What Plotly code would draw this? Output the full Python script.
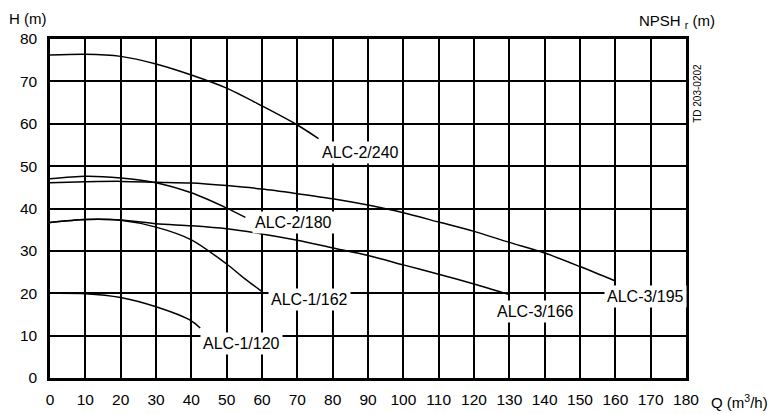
import plotly.graph_objects as go

# Pump curves H(Q)
q_2_240 = [0, 10, 20, 30, 40, 50, 60, 70, 76]
h_2_240 = [76.2, 76.4, 75.9, 74.1, 71.5, 68.4, 64.2, 59.7, 56.5]

q_2_180 = [0, 10, 20, 30, 40, 50, 55.3]
h_2_180 = [47.0, 47.6, 47.2, 46.1, 43.7, 40.1, 37.9]

q_3_195 = [0, 10, 20, 30, 40, 50, 60, 70, 80, 90, 100, 110, 120, 130, 140, 150, 160]
h_3_195 = [46.1, 46.3, 46.4, 46.2, 46.0, 45.4, 44.6, 43.5, 42.3, 40.8, 39.0, 36.8, 34.6, 32.0, 29.5, 26.3, 22.9]

q_3_166 = [0, 10, 20, 30, 40, 50, 60, 70, 80, 90, 100, 110, 120, 130]
h_3_166 = [36.7, 37.4, 37.3, 36.4, 35.9, 35.2, 34.0, 32.5, 30.7, 28.9, 26.7, 24.5, 22.2, 19.7]

q_1_162 = [0, 10, 20, 30, 40, 50, 55, 60]
h_1_162 = [36.7, 37.4, 37.2, 35.6, 32.6, 26.9, 23.5, 20.4]

q_1_120 = [0, 10, 20, 30, 40, 42.5]
h_1_120 = [20.0, 19.9, 19.0, 16.8, 13.5, 11.8]

series_names = ["ALC-2/240", "ALC-2/180", "ALC-3/195", "ALC-3/166", "ALC-1/162", "ALC-1/120"]
series_q = [q_2_240, q_2_180, q_3_195, q_3_166, q_1_162, q_1_120]
series_h = [h_2_240, h_2_180, h_3_195, h_3_166, h_1_162, h_1_120]

# label anchor positions (data coords)
label_q = [88.0, 68.8, 168.6, 137.4, 73.4, 54.3]
label_h = [53.2, 36.8, 19.2, 15.6, 18.5, 8.15]

x_ticks = list(range(0, 181, 10))
y_ticks = list(range(0, 81, 10))

FONT = "Liberation Sans, Arial, sans-serif"

fig = go.Figure()
for name, q, h in zip(series_names, series_q, series_h):
    fig.add_trace(go.Scatter(x=q, y=h, mode="lines", name=name,
                             line=dict(color="black", width=1.5, shape="spline", smoothing=0.8),
                             showlegend=False, hoverinfo="skip"))

for name, lq, lh in zip(series_names, label_q, label_h):
    fig.add_annotation(x=lq, y=lh, text=name, showarrow=False,
                       xanchor="center", yanchor="middle",
                       font=dict(family=FONT, size=16, color="black"),
                       bgcolor="white", borderpad=2)

fig.add_annotation(xref="paper", yref="paper", x=(27.8 - 50) / 636, y=1.0, yshift=21,
                   text="H (m)", showarrow=False, xanchor="center", yanchor="middle",
                   font=dict(family=FONT, size=15, color="black"))
fig.add_annotation(xref="paper", yref="paper", x=(676.5 - 50) / 636, y=1.0, yshift=18,
                   text="NPSH <sub>r</sub> (m)", showarrow=False, xanchor="center", yanchor="middle",
                   font=dict(family=FONT, size=15, color="black"))
fig.add_annotation(xref="paper", yref="paper", x=(739.7 - 50) / 636, y=0.0, yshift=-23,
                   text="Q (m<sup>3</sup>/h)", showarrow=False, xanchor="center", yanchor="middle",
                   font=dict(family=FONT, size=15, color="black"))
fig.add_annotation(xref="paper", yref="paper", x=(696.7 - 50) / 636, y=(377.7 - 93.3) / 338.4,
                   text="TD 203-0202", showarrow=False, textangle=-90,
                   xanchor="center", yanchor="middle",
                   font=dict(family=FONT, size=10, color="black"))

fig.update_xaxes(range=[0, 180], tickvals=x_ticks, ticktext=[str(v) for v in x_ticks],
                 showgrid=True, gridcolor="black", gridwidth=1.7,
                 showline=True, linecolor="black", linewidth=2.5, mirror=True,
                 zeroline=False, ticks="", ticklabelstandoff=6, automargin=False,
                 tickfont=dict(family=FONT, size=15.5, color="black"))
fig.update_yaxes(range=[0, 80], tickvals=y_ticks, ticktext=[str(v) for v in y_ticks],
                 showgrid=True, gridcolor="black", gridwidth=1.7,
                 showline=True, linecolor="black", linewidth=2.5, mirror=True,
                 zeroline=False, ticks="", ticklabelstandoff=7, automargin=False,
                 tickfont=dict(family=FONT, size=15.5, color="black"))

fig.update_layout(width=773, height=414,
                  margin=dict(l=50, r=87, t=39, b=36),
                  paper_bgcolor="white", plot_bgcolor="white",
                  font=dict(family=FONT, color="black"))

fig.write_html("out.html", config={"displayModeBar": False},
               post_script="document.body.style.margin='0';document.body.style.overflow='hidden';")
